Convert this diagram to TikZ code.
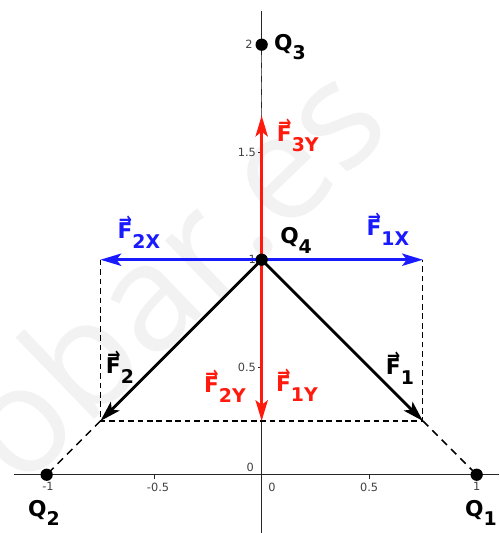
\documentclass[tikz,border=0pt]{standalone}
\usepackage{fontspec}
\setmainfont{DejaVu Sans}
\newfontfamily\wmfont{Open Sans}
\usetikzlibrary{arrows.meta}
\definecolor{vred}{HTML}{FF1A0D}
\definecolor{vblue}{HTML}{1A1AFF}
\newcommand{\vF}{\leavevmode\rlap{\raisebox{0.56em}{\hspace{0.06em}\scalebox{0.72}[0.9]{→}}}F}
\newcommand{\sbs}[1]{\raisebox{-0.45em}{\fontsize{10}{10}\selectfont #1}}
\begin{document}
\begin{tikzpicture}[x=4cm,y=4cm,
  axis/.style={line width=0.6pt, black!85},
  vecarrow/.style={line width=1.5pt, -{Stealth[length=11pt,width=6.5pt,inset=2.5pt]}},
  guide/.style={line width=0.6pt, dash pattern=on 3pt off 2pt},
  qguide/.style={line width=0.8pt, dash pattern=on 4pt off 3pt},
  charge/.style={circle, fill=black, inner sep=0pt, minimum size=6.5pt},
  lab/.style={font=\fontsize{11.5}{11.5}\selectfont\bfseries, inner sep=0pt},
  ticklab/.style={font=\fontsize{6}{6}\selectfont, text=black!75, inner sep=0pt}
]
\useasboundingbox (-1.217,-0.271) rectangle (1.104,2.208);
% watermark
\begin{scope}
\clip (-1.217,-0.271) rectangle (1.104,2.208);
\node[text=black!5, rotate=44, font=\wmfont\fontsize{79}{79}\selectfont] (wm) at (-0.43,0.95) {obar.es};
\end{scope}
% axes
\coordinate (xl) at (-1.152,0); \coordinate (xr) at (1.104,0);
\coordinate (yb) at (0,-0.271); \coordinate (yt) at (0,2.157);
\draw[axis] (xl) -- (xr);
\draw[axis] (yb) -- (yt);
\foreach \x in {-1,-0.5,0.5,1} \draw[axis] (\x,0) -- (\x,-0.018);
\foreach \y in {0.5,1,1.5,2} \draw[axis] (0,\y) -- (-0.018,\y);
% tick labels
\node[ticklab, anchor=north] (tx1) at (-0.994,-0.035) {-1};
\node[ticklab, anchor=north] (tx2) at (-0.482,-0.035) {-0.5};
\node[ticklab, anchor=north] (tx3) at (0.048,-0.035) {0};
\node[ticklab, anchor=north] (tx4) at (0.5,-0.035) {0.5};
\node[ticklab, anchor=north] (tx5) at (1.0,-0.035) {1};
\node[ticklab, anchor=east] (ty0) at (-0.035,0.036) {0};
\node[ticklab, anchor=east] (ty1) at (-0.025,0.5) {0.5};
\node[ticklab, anchor=east] (ty2) at (-0.025,1) {1};
\node[ticklab, anchor=east] (ty3) at (-0.025,1.5) {1.5};
\node[ticklab, anchor=east] (ty4) at (-0.04,2) {2};
% key points
\coordinate (F1end) at (0.75,0.25);
\coordinate (F2end) at (-0.75,0.25);
\coordinate (F1Xend) at (0.75,1);
\coordinate (F2Xend) at (-0.75,1);
\coordinate (F3end) at (0,1.67);
\coordinate (FYend) at (0,0.25);
\coordinate (Q4c) at (0,1);
\coordinate (Q3c) at (0,2);
\coordinate (Q1c) at (1,0);
\coordinate (Q2c) at (-1,0);
% guides
\draw[guide] (F2Xend) -- (F2end) -- (F1end) -- (F1Xend);
\draw[qguide] (F1end) -- (Q1c);
\draw[qguide] (F2end) -- (Q2c);
\draw[qguide, black!60] (F3end) -- (Q3c);
% vectors
\draw[vecarrow, vblue] (Q4c) -- (F1Xend);
\draw[vecarrow, vblue] (Q4c) -- (F2Xend);
\draw[vecarrow, vred] (Q4c) -- (F3end);
\draw[vecarrow, vred] (Q4c) -- (FYend);
\draw[vecarrow, black] (Q4c) -- (F1end);
\draw[vecarrow, black] (Q4c) -- (F2end);
% charges
\node[charge] (Q1) at (Q1c) {};
\node[charge] (Q2) at (Q2c) {};
\node[charge] (Q3) at (Q3c) {};
\node[charge] (Q4) at (Q4c) {};
% labels
\node[lab] (lQ3) at (0.132,1.989) {Q\sbs{3}};
\node[lab] (lQ4) at (0.160,1.091) {Q\sbs{4}};
\node[lab] (lQ1) at (1.02,-0.178) {Q\sbs{1}};
\node[lab] (lQ2) at (-1.013,-0.178) {Q\sbs{2}};
\node[lab, text=vred] (lF3Y) at (0.168,1.58) {\vF\sbs{3Y}};
\node[lab, text=vblue] (lF1X) at (0.587,1.142) {\vF\sbs{1X}};
\node[lab, text=vblue] (lF2X) at (-0.571,1.128) {\vF\sbs{2X}};
\node[lab] (lF2) at (-0.659,0.501) {\vF\sbs{2}};
\node[lab] (lF1) at (0.643,0.497) {\vF\sbs{1}};
\node[lab, text=vred] (lF2Y) at (-0.171,0.413) {\vF\sbs{2Y}};
\node[lab, text=vred] (lF1Y) at (0.164,0.417) {\vF\sbs{1Y}};
\end{tikzpicture}
\end{document}
